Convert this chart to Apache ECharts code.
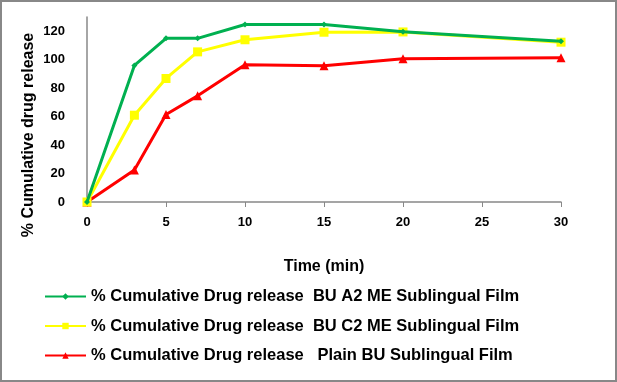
<!DOCTYPE html>
<html><head><meta charset="utf-8">
<script src="https://cdn.jsdelivr.net/npm/echarts@6/dist/echarts.min.js"></script>
<style>html,body{margin:0;padding:0;background:#fff}#c{width:617px;height:382px;box-sizing:border-box;border:2px solid #888}</style>
</head><body><div id="c"></div>
<script>
const times = [0, 3, 5, 7, 10, 15, 20, 30];
const seriesNames = [
  '% Cumulative Drug release  BU A2 ME Sublingual Film',
  '% Cumulative Drug release  BU C2 ME Sublingual Film',
  '% Cumulative Drug release   Plain BU Sublingual Film'
];
const yTitle = '% Cumulative drug release';
const xTitle = 'Time (min)';
const a2Values = [0, 96, 115, 115, 124.7, 124.7, 119.6, 113];
const c2Values = [0, 61, 86.8, 105.5, 114, 119.3, 119.5, 112.3];
const plainValues = [0, 22.5, 61.5, 74.6, 96.4, 95.7, 100.6, 101.3];
const colors = ['#00B050', '#FFFF00', '#FF0000'];
const symbols = ['diamond', 'rect', 'triangle'];
const symbolSizes = [6, 9, 9];

const chart = echarts.init(document.getElementById('c'));
const font = 'Arial, "Liberation Sans", sans-serif';
const mk = (vals) => times.map((t, i) => [t, vals[i]]);
const allVals = [a2Values, c2Values, plainValues];
chart.setOption({
  animation: false,
  grid: { left: 85, right: 54, top: 15, bottom: 178, containLabel: false },
  graphic: [{
    type: 'text', x: 27, y: 133, rotation: Math.PI / 2,
    style: { text: yTitle, font: 'bold 16px ' + font, fill: '#000', align: 'center', verticalAlign: 'middle' }
  }],
  xAxis: {
    type: 'value', min: 0, max: 30, interval: 5,
    name: xTitle, nameLocation: 'middle', nameGap: 57,
    nameTextStyle: { fontFamily: font, fontSize: 16, fontWeight: 'bold', color: '#000' },
    axisLine: { lineStyle: { color: '#888', width: 1.5 } },
    axisTick: { show: true, length: 5, lineStyle: { color: '#888' } },
    axisLabel: { fontFamily: font, fontSize: 13, fontWeight: 'bold', color: '#000', margin: 14 },
    splitLine: { show: false }
  },
  yAxis: {
    type: 'value', min: 0, max: 130, interval: 20,
    axisLine: { show: true, lineStyle: { color: '#888', width: 1.5 } },
    axisTick: { show: false },
    axisLabel: { fontFamily: font, fontSize: 13, fontWeight: 'bold', color: '#000', margin: 22, showMaxLabel: false },
    splitLine: { show: false }
  },
  legend: {
    orient: 'vertical', left: 42, top: 286, padding: 0, itemWidth: 41, itemHeight: 8, itemGap: 12.5,
    textStyle: { fontFamily: font, fontSize: 16.5, fontWeight: 'bold', color: '#000' },
    data: seriesNames
  },
  series: seriesNames.map((n, i) => ({
    name: n, type: 'line', data: mk(allVals[i]),
    symbol: symbols[i], symbolSize: symbolSizes[i],
    lineStyle: { color: colors[i], width: 3 },
    itemStyle: { color: colors[i] },
    z: 3 - i
  }))
});
</script></body></html>
